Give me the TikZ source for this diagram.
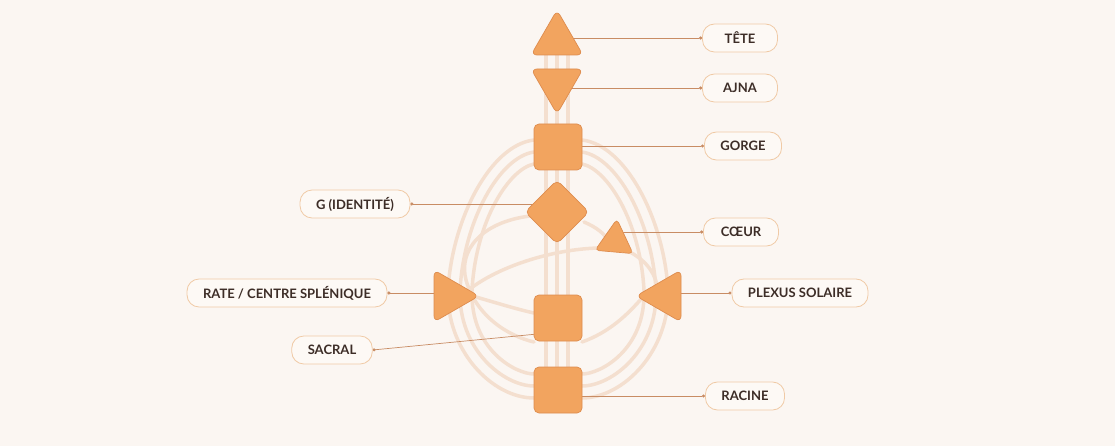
\documentclass[tikz,border=0pt]{standalone}
\usepackage{fontspec}
\setmainfont{Lato}
\usetikzlibrary{positioning,shapes.geometric,arrows.meta,backgrounds}

\begin{document}
\begin{tikzpicture}[
    x=1pt,
    y=-1pt,
    font=\fontsize{13}{15}\selectfont\bfseries,
    centre/.style={fill=hdOrange, draw=hdEdge, line width=0.7pt, rounded corners=4pt, inner sep=0pt},
    tri/.style={centre, regular polygon, regular polygon sides=3, minimum size=60pt, rounded corners=6pt},
    block/.style={centre, rectangle, minimum width=48pt, minimum height=46pt, rounded corners=5pt},
    lozenge/.style={centre, diamond, minimum width=64pt, minimum height=64pt, rounded corners=5pt},
    tag/.style={draw=hdTagLine, fill=hdTag, line width=0.8pt, rounded corners=12pt, text=hdText, minimum height=28pt, minimum width=75pt, inner xsep=16pt},
    link/.style={draw=hdLink, line width=0.7pt, {Circle[length=3pt]}-},
    channel/.style={draw=hdChannel, line width=3.5pt, line cap=round}
]

\definecolor{hdBack}{HTML}{FBF6F2}
\definecolor{hdOrange}{HTML}{F2A45F}
\definecolor{hdEdge}{HTML}{DE8C4E}
\definecolor{hdTag}{HTML}{FDF9F5}
\definecolor{hdTagLine}{HTML}{F0CAA6}
\definecolor{hdText}{HTML}{3D2D27}
\definecolor{hdLink}{HTML}{C88C64}
\definecolor{hdChannel}{HTML}{F4DFCF}

\useasboundingbox (0,0) rectangle (1115,446);

% Centres (pixel coordinates, y downwards)
\node[tri] (tete) at (557,40) {};
\node[tri, regular polygon rotate=180] (ajna) at (557,84) {};
\node[block] (gorge) at (558,147) {};
\node[lozenge] (g) at (557,212) {};
\node[tri, regular polygon rotate=-5, minimum size=44pt, rounded corners=4pt] (coeur) at (615,241) {};
\node[tri, regular polygon rotate=-90] (rate) at (449,296) {};
\node[tri, regular polygon rotate=90] (plexus) at (666,296) {};
\node[block] (sacral) at (558,318) {};
\node[block] (racine) at (558,390) {};

% Labels
\node[tag] (lblTete) at (740,38) {TÊTE};
\node[tag] (lblAjna) at (740,88) {AJNA};
\node[tag] (lblGorge) at (743,146) {GORGE};
\node[tag] (lblG) at (355,204) {G (IDENTITÉ)};
\node[tag] (lblCoeur) at (741,232) {CŒUR};
\node[tag] (lblRate) at (287,293) {RATE / CENTRE SPLÉNIQUE};
\node[tag] (lblPlexus) at (800,293) {PLEXUS SOLAIRE};
\node[tag] (lblSacral) at (332,350) {SACRAL};
\node[tag] (lblRacine) at (745,396) {RACINE};

\begin{scope}[on background layer]
    \fill[hdBack] (0,0) rectangle (1115,446);

    % Channels: vertical column
    \foreach \x in {546,557,568}{
        \draw[channel] (\x,40) -- (\x,390);
    }

    % Channels: nested arcs, gorge to racine
    \foreach \d in {0,12,24}{
        \draw[channel] (534,140+\d) .. controls (490+0.8*\d,145+\d) and (452+\d,220) .. (448+\d,290)
            .. controls (446+\d,350) and (492+\d,398-\d) .. (534,398-\d);
        \draw[channel] (582,140+\d) .. controls (626-0.8*\d,145+\d) and (664-\d,220) .. (668-\d,290)
            .. controls (670-\d,350) and (624-\d,398-\d) .. (582,398-\d);
    }

    % Channels: inner crossings
    \draw[channel] (530,216) .. controls (482,222) and (458,250) .. (466,280)
        .. controls (476,316) and (508,336) .. (534,342);
    \draw[channel] (466,292) .. controls (500,264) and (560,248) .. (602,248);
    \draw[channel] (584,222) .. controls (598,228) and (604,234) .. (608,240);
    \draw[channel] (630,252) .. controls (648,262) and (656,275) .. (658,290);
    \draw[channel] (476,297) .. controls (500,304) and (520,310) .. (534,313);
    \draw[channel] (582,342) .. controls (610,332) and (628,314) .. (642,298);

    % Connectors
    \draw[link] (lblTete.west) -- (lblTete.west -| tete);
    \draw[link] (lblAjna.west) -- (lblAjna.west -| ajna);
    \draw[link] (lblGorge.west) -- (lblGorge.west -| gorge);
    \draw[link] (lblG.east) -- (lblG.east -| g);
    \draw[link] (lblCoeur.west) -- (lblCoeur.west -| coeur);
    \draw[link] (lblRate.east) -- (lblRate.east -| rate);
    \draw[link] (lblPlexus.west) -- (lblPlexus.west -| plexus);
    \draw[link] (lblSacral.east) -- ([yshift=-14pt]sacral.center);
    \draw[link] (lblRacine.west) -- (lblRacine.west -| racine);
\end{scope}

\end{tikzpicture}
\end{document}
